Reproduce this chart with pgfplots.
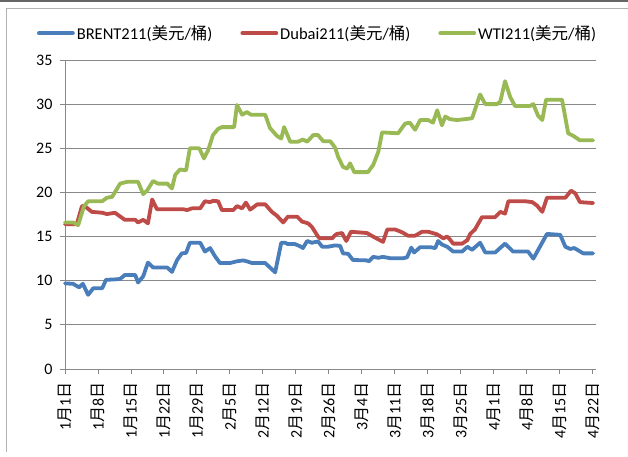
\documentclass[border=0pt]{standalone}
\usepackage{pgfplots}
\pgfplotsset{compat=1.18}
\usepackage{fontspec}
\setmainfont{Carlito}
\newfontfamily\cjk{Noto Sans CJK SC}
\definecolor{cblue}{HTML}{4A7EBB}
\definecolor{cred}{HTML}{BE4B48}
\definecolor{cgreen}{HTML}{98B954}
\definecolor{gridgray}{HTML}{888888}
\newcommand{\md}[2]{#1{\cjk 月}#2{\cjk 日}}
\begin{document}
\begin{tikzpicture}[x=1pt,y=1pt]
\useasboundingbox (0,0) rectangle (628,456);
\draw[gray!80!black, line width=2pt] (0,454.5) -- (628,454.5);
\draw[gray!60, line width=0.8pt] (6,448) -- (628,448);
\draw[gray!60, line width=0.8pt] (6,448) -- (6,4);
\begin{axis}[
  at={(65pt,87pt)}, anchor=south west, scale only axis,
  width=530.5pt, height=309pt,
  xmin=0, xmax=112.6, ymin=0, ymax=35,
  axis x line=bottom, axis y line=left,
  axis line style={-, gridgray, line width=0.9pt},
  xtick={0,7,...,112},
  xticklabels={{\md{1}{1}},{\md{1}{8}},{\md{1}{15}},{\md{1}{22}},{\md{1}{29}},{\md{2}{5}},{\md{2}{12}},{\md{2}{19}},{\md{2}{26}},{\md{3}{4}},{\md{3}{11}},{\md{3}{18}},{\md{3}{25}},{\md{4}{1}},{\md{4}{8}},{\md{4}{15}},{\md{4}{22}}},
  ytick={0,5,...,35},
  tick align=outside, major tick length=5pt,
  tick style={gridgray, line width=0.9pt},
  ymajorgrids, grid style={gridgray, line width=0.9pt},
  /pgf/number format/assume math mode=true,
  tick label style={font=\fontsize{16}{18}\selectfont, black},
  xticklabel style={rotate=90, anchor=east, yshift=0pt, xshift=-5pt},
  yticklabel style={xshift=-4pt},
  legend style={at={(0.476,1.087)}, anchor=center, draw=none, fill=none,
    font=\fontsize{16.5}{19}\selectfont, legend columns=3,
    /tikz/every even column/.append style={column sep=26pt}},
  legend image code/.code={\draw[#1] (0pt,0pt) -- (34pt,0pt);},
  every axis plot/.append style={line width=3.8pt, line join=round, line cap=round},
  clip=false,
]
\addplot[cblue] coordinates {
(0,9.7)(1.7,9.65)(3.0,9.25)(3.8,9.65)(4.9,8.4)(6.0,9.15)(7.9,9.15)(8.7,10.1)(10.6,10.15)(11.7,10.2)(12.7,10.65)(14.9,10.65)(15.5,9.8)(16.6,10.5)(17.6,12.05)(18.7,11.5)(21.7,11.5)(22.7,11.0)(23.8,12.35)(24.8,13.1)(25.7,13.15)(26.5,14.3)(28.7,14.3)(29.7,13.3)(30.8,13.7)(31.8,12.8)(32.9,12.0)(35.0,12.0)(36.5,12.2)(37.8,12.3)(38.6,12.2)(39.7,12.0)(42.5,12.0)(43.3,11.6)(44.6,10.95)(45.9,14.3)(46.7,14.3)(47.3,14.15)(48.8,14.15)(49.9,13.9)(50.5,13.7)(51.4,14.5)(52.4,14.3)(53.7,14.45)(54.6,13.85)(55.8,13.85)(57.3,14.0)(58.4,13.95)(59.0,13.1)(60.1,13.05)(61.1,12.35)(64.1,12.3)(64.5,12.2)(65.4,12.7)(66.5,12.6)(67.5,12.7)(69.0,12.55)(71.8,12.55)(72.6,12.65)(73.5,13.75)(74.1,13.2)(75.4,13.8)(77.5,13.8)(78.6,13.7)(79.2,14.5)(80.0,14.1)(81.1,13.85)(82.4,13.3)(84.3,13.3)(85.4,13.85)(86.4,13.5)(88.1,14.3)(89.2,13.2)(91.3,13.2)(93.4,14.2)(95.1,13.3)(98.3,13.3)(99.4,12.5)(102.3,15.3)(105.1,15.2)(106.2,13.85)(107.2,13.6)(108.1,13.7)(110.0,13.1)(112.1,13.1)
};
\addlegendentry{BRENT211({\cjk 美元}/{\cjk 桶})}
\addplot[cred] coordinates {
(0,16.4)(2.5,16.4)(3.6,18.45)(4.2,18.45)(5.7,17.8)(7.9,17.7)(8.9,17.55)(10.6,17.7)(12.7,16.9)(14.9,16.9)(15.5,16.6)(16.6,16.9)(17.6,16.5)(18.5,19.2)(19.5,18.1)(25.1,18.1)(25.9,18.0)(27.0,18.2)(28.7,18.2)(29.7,19.0)(30.8,18.9)(31.4,19.05)(32.5,19.0)(33.3,18.0)(35.7,18.0)(36.5,18.45)(37.6,18.2)(38.4,18.85)(39.3,18.05)(40.8,18.65)(42.5,18.65)(43.9,17.8)(45.0,17.35)(46.3,16.6)(47.3,17.25)(49.3,17.25)(50.3,16.7)(51.6,16.5)(52.4,16.1)(53.7,15.0)(54.1,14.8)(56.7,14.8)(57.3,15.15)(57.7,15.3)(58.8,15.4)(59.7,14.5)(60.7,15.55)(64.1,15.4)(65.4,15.0)(67.5,14.4)(68.4,15.8)(70.1,15.8)(71.5,15.5)(72.8,15.1)(74.3,15.1)(75.8,15.55)(77.1,15.55)(79.0,15.25)(80.3,14.8)(81.1,15.0)(81.5,14.8)(82.4,14.2)(84.3,14.2)(85.4,14.6)(86.0,15.3)(87.0,15.8)(88.5,17.2)(91.3,17.2)(92.4,17.8)(93.4,17.6)(94.1,19.0)(97.7,19.0)(99.2,18.9)(100.2,18.5)(101.3,17.8)(102.3,19.4)(106.2,19.4)(107.4,20.2)(108.3,19.9)(109.3,18.9)(112.1,18.8)
};
\addlegendentry{Dubai211({\cjk 美元}/{\cjk 桶})}
\addplot[cgreen] coordinates {
(0,16.6)(1.7,16.6)(2.8,16.3)(4.0,18.4)(4.9,19.0)(7.9,19.0)(8.9,19.4)(10.0,19.5)(11.7,21.0)(13.2,21.2)(15.5,21.2)(16.6,19.8)(17.4,20.2)(18.7,21.3)(19.7,21.0)(21.7,21.0)(22.7,20.45)(23.4,22.0)(24.4,22.6)(25.7,22.5)(26.5,25.0)(28.5,25.0)(29.5,23.85)(30.4,24.8)(31.4,26.5)(32.5,27.2)(33.3,27.4)(35.9,27.4)(36.5,29.9)(37.6,28.8)(38.6,29.1)(39.5,28.8)(42.5,28.8)(43.5,27.3)(45.0,26.4)(45.9,26.1)(46.5,27.4)(47.8,25.75)(49.5,25.75)(50.5,26.0)(51.4,25.75)(52.7,26.5)(53.7,26.5)(54.8,25.8)(56.3,25.8)(57.3,25.1)(58.0,24.0)(59.0,22.9)(59.9,22.7)(60.5,23.3)(61.4,22.3)(64.3,22.3)(65.4,23.1)(66.5,24.6)(67.3,26.8)(70.7,26.7)(72.2,27.8)(73.2,27.9)(74.3,27.1)(75.4,28.2)(77.1,28.2)(78.1,27.9)(79.0,29.3)(80.0,27.6)(80.7,28.6)(81.7,28.3)(83.2,28.2)(84.9,28.3)(86.4,28.4)(88.1,31.1)(89.2,30.0)(91.7,30.0)(92.4,30.3)(93.4,32.6)(94.5,30.8)(95.5,29.8)(98.7,29.8)(99.4,30.0)(100.4,28.7)(101.3,28.2)(102.1,30.5)(105.5,30.5)(106.8,26.7)(107.9,26.4)(109.3,25.9)(112.1,25.9)
};
\addlegendentry{WTI211({\cjk 美元}/{\cjk 桶})}
\end{axis}
\end{tikzpicture}
\end{document}
